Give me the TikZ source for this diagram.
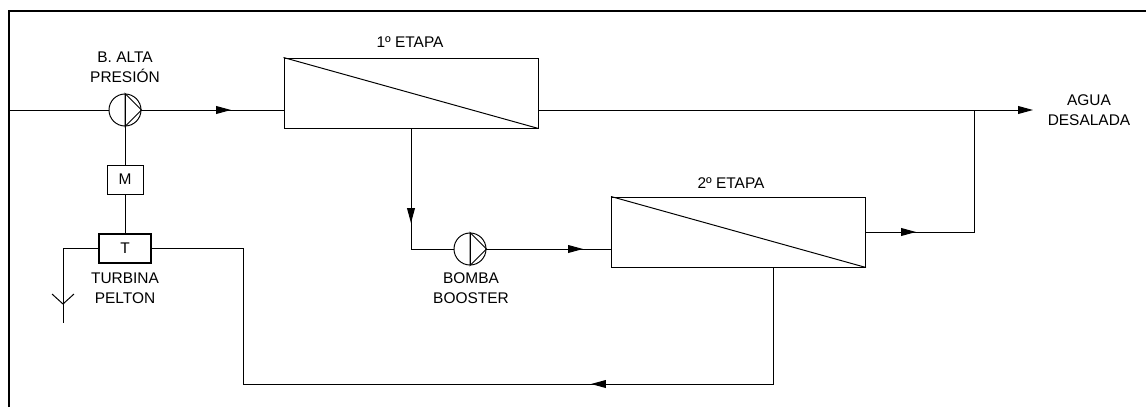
\documentclass[tikz,border=0pt]{standalone}
\usepackage{fontspec}
\setmainfont{Liberation Sans}
\usetikzlibrary{arrows.meta}
\tikzset{
  equip/.style={draw, inner sep=0pt, line width=0.7pt},
  membrane/.style={equip, minimum width=6.35cm, minimum height=1.75cm},
  pumpnode/.style={equip, circle, minimum size=0.8cm},
  flow/.style={line width=0.7pt, -{Triangle[length=10.5pt, width=5.5pt]}},
  pipe/.style={line width=0.7pt},
  tag/.style={align=center, font=\fontsize{11}{14}\selectfont}
}
\begin{document}
\begin{tikzpicture}
    \useasboundingbox (0,0) rectangle (28.65,10.175);
    % frame
    \draw[line width=1.8pt] (0.225,0) -- (0.225,9.9) -- (28.65,9.9);
    % equipment
    \node[pumpnode] (pump1) at (3.125,7.425) {};
    \node[pumpnode] (pump2) at (11.75,3.95) {};
    \node[membrane] (box1) at (10.275,7.85) {};
    \node[membrane] (box2) at (18.4625,4.375) {};
    \node[equip, minimum width=0.9cm, minimum height=0.725cm, font=\fontsize{11}{14}\selectfont] (motor) at (3.125,5.6875) {M};
    \node[equip, line width=1.6pt, minimum width=1.3cm, minimum height=0.72cm, font=\fontsize{11}{14}\selectfont] (turbine) at (3.125,3.9625) {T};
    \foreach \pumpname in {pump1,pump2}{
      \draw[pipe] (\pumpname.north) -- (\pumpname.east) -- (\pumpname.south) -- cycle;
    }
    \foreach \boxname in {box1,box2}{
      \draw[pipe] (\boxname.north west) -- (\boxname.south east);
    }
    % free ends
    \coordinate (inlet) at (0.225,7.425);
    \coordinate (tip1) at (5.775,7.425);
    \coordinate (tip2) at (25.825,7.425);
    \coordinate (join1) at (24.35,7.425);
    \coordinate (tip3) at (10.275,4.6);
    \coordinate (bend1) at (10.275,3.95);
    \coordinate (tip4) at (14.575,3.95);
    \coordinate (tip5) at (22.9,4.375);
    \coordinate (bend2) at (24.35,4.375);
    \coordinate (bend3) at (19.325,0.575);
    \coordinate (tip6) at (14.775,0.575);
    \coordinate (bend4) at (6.075,0.575);
    \coordinate (bend5) at (6.075,3.9625);
    \coordinate (bend6) at (1.575,3.9625);
    \coordinate (drain) at (1.575,2.1);
    \coordinate (fork) at (1.575,2.575);
    \coordinate (forkl) at (1.3,2.825);
    \coordinate (forkr) at (1.85,2.825);
    % high pressure line
    \draw[pipe] (inlet) -- (pump1.west);
    \draw[pipe] (pump1.east) -- (pump1 -| box1.west);
    \draw[flow] (pump1.east) -- (tip1);
    \draw[pipe] (pump1.south) -- (motor.north);
    \draw[pipe] (motor.south) -- (turbine.north);
    % product
    \draw[flow] (pump1 -| box1.east) -- (tip2);
    \draw[pipe] (box2.east) -- (bend2) -- (join1);
    \draw[flow] (box2.east) -- (tip5);
    % second stage feed
    \draw[pipe] (box1.south) -- (bend1) -- (pump2.west);
    \draw[flow] (box1.south) -- (tip3);
    \draw[pipe] (pump2.east) -- (pump2 -| box2.west);
    \draw[flow] (pump2.east) -- (tip4);
    % brine return
    \draw[pipe] (bend3 |- box2.south) -- (bend3) -- (bend4) -- (bend5) -- (turbine.east);
    \draw[flow] (bend3) -- (tip6);
    \draw[pipe] (turbine.west) -- (bend6) -- (drain);
    \draw[pipe] (forkl) -- (fork) -- (forkr);
    \draw[pipe] (pump1.north) -- (pump1.south);
    \draw[pipe] (pump2.north) -- (pump2.south);
    % labels
    \node[tag] (lblpump1) at (3.125,8.5) {B. ALTA\\PRESIÓN};
    \node[tag] (lblturbine) at (3.125,2.975) {TURBINA\\PELTON};
    \node[tag] (lblpump2) at (11.775,2.975) {BOMBA\\BOOSTER};
    \node[tag] (lblbox1) at (10.25,9.125) {1º ETAPA};
    \node[tag] (lblbox2) at (18.275,5.6) {2º ETAPA};
    \node[tag] (lblout) at (27.225,7.425) {AGUA\\DESALADA};
  \end{tikzpicture}
\end{document}
